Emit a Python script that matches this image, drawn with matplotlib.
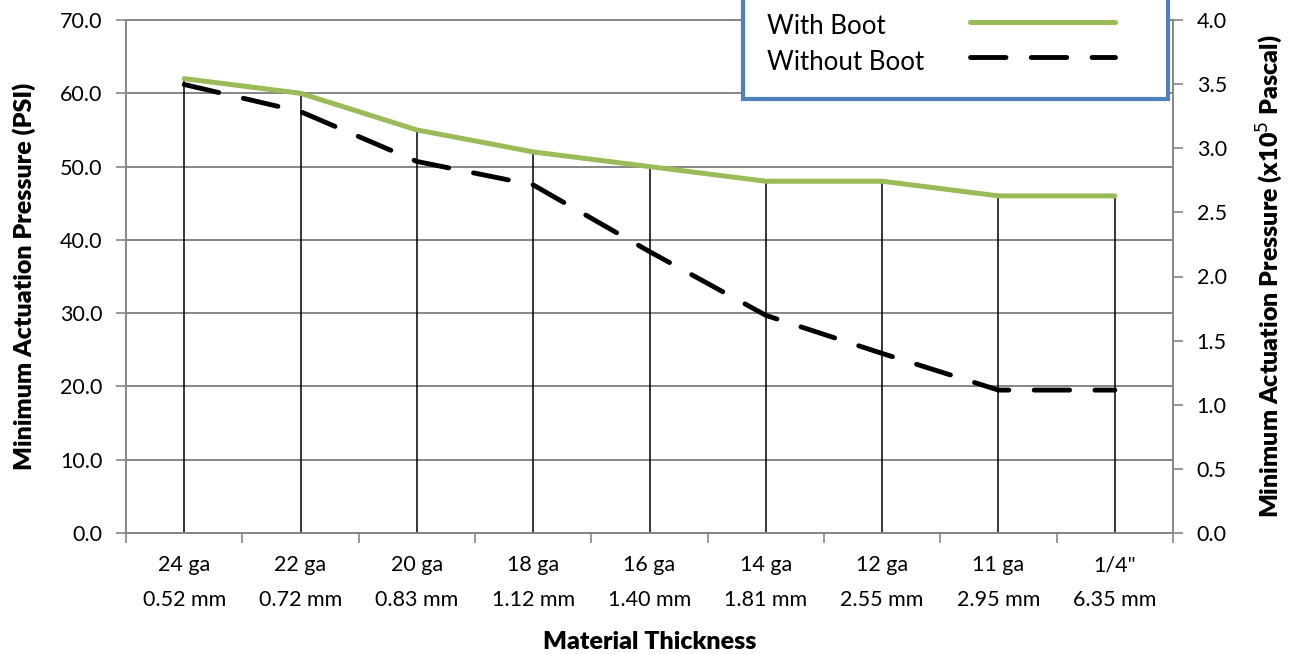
import matplotlib.pyplot as plt
import numpy as np
from matplotlib.lines import Line2D
from matplotlib.patches import Rectangle
from matplotlib.ticker import FormatStrFormatter, MultipleLocator

plt.rcParams["font.family"] = ["Lato", "DejaVu Sans"]

gauges = ["24 ga", "22 ga", "20 ga", "18 ga", "16 ga", "14 ga", "12 ga", "11 ga", '1/4"']
thickness = ["0.52 mm", "0.72 mm", "0.83 mm", "1.12 mm", "1.40 mm", "1.81 mm", "2.55 mm", "2.95 mm", "6.35 mm"]
with_boot = [62.0, 60.0, 55.0, 52.0, 50.0, 48.0, 48.0, 46.0, 46.0]
without_boot = [61.2, 57.5, 50.7, 47.5, 38.4, 29.7, 24.5, 19.5, 19.5]
series_names = ["With Boot", "Without Boot"]

GRID = "#868686"
GREEN = "#9BBB59"
BLUE = "#4F81BD"
FS = 15.5
LABEL_FS = 18
W, H = 1291, 654

fig = plt.figure(figsize=(W / 100, H / 100), dpi=100)
ax = fig.add_axes([126 / W, 1 - 533 / H, (1173 - 126) / W, (533 - 20) / H])

x = np.arange(len(gauges))
tops = np.maximum(with_boot, without_boot)
ax.vlines(x, 0, tops, color="black", linewidth=1.1, zorder=2)
green_style = dict(color=GREEN, linewidth=3.6, solid_capstyle="round")
dash_style = dict(color="black", linewidth=3.5, dashes=(7.3, 5.2), dash_capstyle="round")
ax.plot(x, with_boot, zorder=3, **green_style)
ax.plot(x, without_boot, zorder=4, **dash_style)

ax.set_xlim(-0.5, len(gauges) - 0.5)
ax.set_ylim(0, 70)
ax.yaxis.set_major_locator(MultipleLocator(10))
ax.yaxis.set_major_formatter(FormatStrFormatter("%.1f"))
ax.grid(axis="y", color=GRID, linewidth=1.4, zorder=0)
ax.set_axisbelow(True)

ax.set_xticks(x)
ax.set_xticklabels([f"{g}\n{t}" for g, t in zip(gauges, thickness)], fontsize=FS, linespacing=1.95)
ax.set_xticks(np.arange(-0.5, len(gauges)), minor=True)
ax.tick_params(axis="x", which="major", length=0, pad=16)
ax.tick_params(axis="x", which="minor", length=7, color=GRID, width=1.2)
ax.tick_params(axis="y", labelsize=FS, length=7, color=GRID, width=1.2, pad=10)

for side in ["left", "bottom", "right", "top"]:
    ax.spines[side].set_color(GRID)
    ax.spines[side].set_linewidth(1.4)

ax.set_xlabel("Material Thickness", fontsize=LABEL_FS, fontweight="heavy", labelpad=15)
ax.set_ylabel("Minimum Actuation Pressure (PSI)", fontsize=LABEL_FS, fontweight="heavy", labelpad=17)

ax2 = ax.twinx()
ax2.set_ylim(0, 4.0)
ax2.yaxis.set_major_locator(MultipleLocator(0.5))
ax2.yaxis.set_major_formatter(FormatStrFormatter("%.1f"))
ax2.tick_params(axis="y", labelsize=FS, length=7, color=GRID, width=1.2, pad=10)
for side in ["left", "bottom", "right", "top"]:
    ax2.spines[side].set_visible(False)
ax2.set_ylabel("Minimum Actuation Pressure (x10$^{5}$ Pascal)", fontsize=LABEL_FS,
               fontweight="heavy", labelpad=20)

# legend box (runs off the top edge of the figure, text left / sample right)
px = lambda u, v: (u / W, 1 - v / H)
box = Rectangle(px(743, 99), (1168 - 743) / W, 130 / H, transform=fig.transFigure,
                facecolor="white", edgecolor=BLUE, linewidth=3.0, zorder=10)
fig.add_artist(box)
for name, style, ty, ly in zip(series_names, [green_style, dash_style], [27, 63], [22, 57]):
    fig.text(*px(767, ty), name, fontsize=18.6, ha="left", va="center", zorder=11)
    (x0, y0), (x1, _) = px(970, ly), px(1115, ly)
    fig.add_artist(Line2D([x0, x1], [y0, y0], transform=fig.transFigure, zorder=11, **style))

fig.savefig("out.png", dpi=100)
